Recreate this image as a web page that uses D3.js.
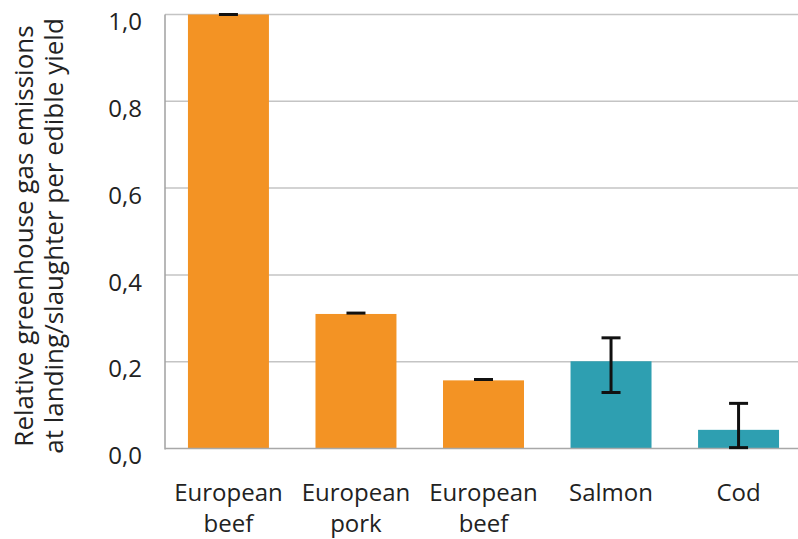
<!DOCTYPE html>
<html><head><meta charset="utf-8">
<script src="https://cdn.jsdelivr.net/npm/d3@7"></script>
<style>body{margin:0;background:#fff}svg{display:block}</style>
</head><body>
<script>
const categories = [["European","beef"],["European","pork"],["European","beef"],["Salmon"],["Cod"]];
const values = [1.0, 0.31, 0.157, 0.201, 0.043];
const errLow = [1.0, 0.312, 0.159, 0.129, 0.002];
const errHigh = [1.0, 0.312, 0.159, 0.255, 0.104];
const groups = ["meat","meat","meat","fish","fish"];
const yTicks = [0, 0.2, 0.4, 0.6, 0.8, 1.0];
const yTitle = ["Relative greenhouse gas emissions", "at landing/slaughter per edible yield"];

const W = 798, H = 539;
const colors = {meat:"#F39324", fish:"#2E9FB1"};
const font = "'Open Sans', sans-serif";
const svg = d3.select("body").append("svg").attr("width", W).attr("height", H);

const x0 = 165, x1 = 798;
const idx = d3.range(values.length);
const x = d3.scaleBand().domain(idx).range([x0, 802]).paddingInner(0.365).paddingOuter(0.18);
const y = d3.scaleLinear().domain([0, 1]).range([448.5, 14.5]);

// gridlines
svg.append("g").selectAll("line").data(yTicks.filter(d=>d>0)).join("line")
  .attr("x1", x0).attr("x2", x1).attr("y1", d=>y(d)).attr("y2", d=>y(d))
  .attr("stroke", "#c4c4c4").attr("stroke-width", 1.5);

// bars
svg.append("g").selectAll("rect").data(idx).join("rect")
  .attr("x", i=>x(i)).attr("width", x.bandwidth())
  .attr("y", i=>y(values[i])).attr("height", i=>y(0)-y(values[i]))
  .attr("fill", i=>colors[groups[i]]);

// axes lines
svg.append("line").attr("x1", x0).attr("x2", x0).attr("y1", y(1)).attr("y2", y(0)+1)
  .attr("stroke", "#a0a0a0").attr("stroke-width", 1.5);
svg.append("line").attr("x1", x0).attr("x2", x1).attr("y1", y(0)).attr("y2", y(0))
  .attr("stroke", "#a8a8a8").attr("stroke-width", 1.5);

// error bars
const eb = svg.append("g").attr("stroke", "#111").attr("stroke-width", 3);
idx.forEach(i=>{
  const cx = x(i) + x.bandwidth()/2, cw = 9.5;
  if (errHigh[i] - errLow[i] > 0.01) {
    eb.append("line").attr("x1", cx).attr("x2", cx).attr("y1", y(errLow[i])).attr("y2", y(errHigh[i]));
    eb.append("line").attr("x1", cx-cw).attr("x2", cx+cw).attr("y1", y(errLow[i])).attr("y2", y(errLow[i]));
  }
  eb.append("line").attr("x1", cx-cw).attr("x2", cx+cw).attr("y1", y(errHigh[i])).attr("y2", y(errHigh[i]));
});

// y tick labels (sit slightly below their gridlines, as in the reference)
svg.append("g").selectAll("text").data(yTicks).join("text")
  .attr("x", 142).attr("y", d=>y(d)+7).attr("dy", "0.36em")
  .attr("text-anchor", "end").attr("font-family", font).attr("font-size", 24).attr("fill", "#222")
  .text(d=>d3.format(".1f")(d).replace(".", ","));

// category labels
const cl = svg.append("g").attr("font-family", font).attr("font-size", 24).attr("fill", "#222").attr("text-anchor", "middle");
idx.forEach(i=>{
  const t = cl.append("text").attr("x", x(i)+x.bandwidth()/2).attr("y", 501);
  categories[i].forEach((s,k)=>t.append("tspan").attr("x", x(i)+x.bandwidth()/2).attr("dy", k?31:0).text(s));
});

// y title
const tt = svg.append("text").attr("transform", "translate(33,236) rotate(-90)")
  .attr("text-anchor", "middle").attr("font-family", font).attr("font-size", 26).attr("fill", "#222");
yTitle.forEach((s,k)=>tt.append("tspan").attr("x", 0).attr("dy", k?30:0).text(s));
</script>
</body></html>
